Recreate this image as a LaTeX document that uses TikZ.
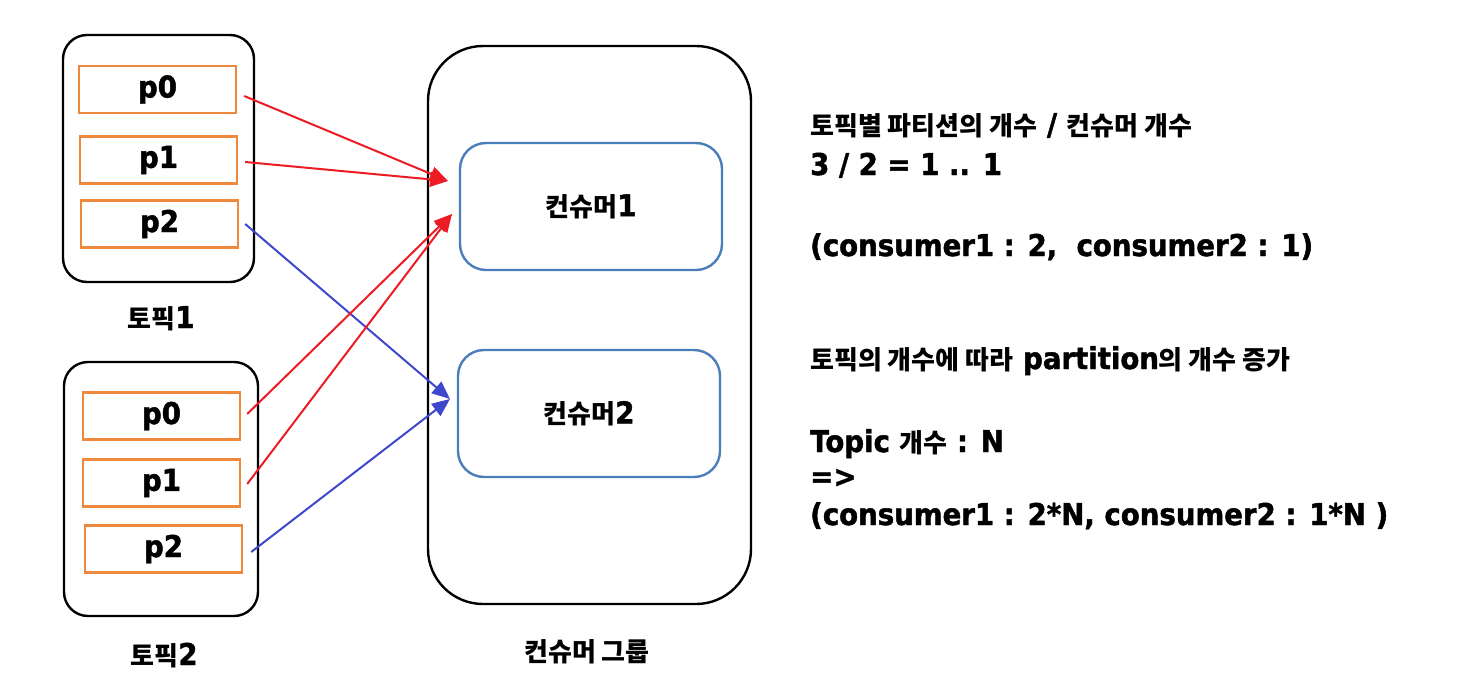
\documentclass[tikz,border=0pt]{standalone}
\usepackage{fontspec}
\setmainfont{DejaVu Sans}[FakeStretch=0.92, BoldFeatures={FakeBold=1.5}]
\newfontfamily\krfont{Noto Sans CJK KR}
\usetikzlibrary{arrows.meta,calc}
\definecolor{arrred}{RGB}{237,28,36}
\definecolor{arrblue}{RGB}{63,72,204}
\definecolor{partorange}{RGB}{237,137,60}
\definecolor{consblue}{RGB}{74,126,187}
\newcommand\kk[2]{{\fontsize{#1}{#1}\krfont\bfseries #2}}
\newcommand\lt[1]{\fontsize{#1}{#1}\selectfont\bfseries}
\tikzset{
  topicbox/.style={draw=black, line width=2.4pt, rounded corners=24pt, minimum width=191pt, minimum height=247pt, inner sep=0pt},
  partbox/.style={draw=partorange, line width=2.4pt, minimum width=157pt, minimum height=47pt, inner sep=0pt, font=\lt{30}},
  groupbox/.style={draw=black, line width=2.4pt, rounded corners=55pt, minimum width=323pt, minimum height=558pt, inner sep=0pt},
  consbox/.style={draw=consblue, line width=2.4pt, rounded corners=26pt, minimum width=262pt, minimum height=127pt, inner sep=0pt, font=\lt{30}},
  redarr/.style={draw=arrred, line width=2pt, -{Triangle[length=18pt,width=15pt]}},
  bluearr/.style={draw=arrblue, line width=2pt, -{Triangle[length=18pt,width=15pt]}},
  txt/.style={anchor=base west, inner sep=0pt, font=\lt{30}},
  lbl/.style={anchor=base, inner sep=0pt, font=\lt{30}}
}
\begin{document}
\begin{tikzpicture}[x=1pt,y=-1pt]
\useasboundingbox (0,0) rectangle (1462,696);
% topics
\node[topicbox] (t1) at (158.5,158.5) {};
\node[topicbox, minimum width=194pt, minimum height=254pt] (t2) at (161,489) {};
\node[partbox] (t1p0) at (157.5,89.5) {p0};
\node[partbox] (t1p1) at (158.5,160) {p1};
\node[partbox] (t1p2) at (159.5,224) {p2};
\node[partbox] (t2p0) at (161.5,416) {p0};
\node[partbox] (t2p1) at (161.5,483) {p1};
\node[partbox] (t2p2) at (163.5,549) {p2};
\node[lbl] (t1l) at (161,328) {\kk{26}{토픽}1};
\node[lbl] (t2l) at (164,665) {\kk{26}{토픽}2};
% group
\node[groupbox] (grp) at (589.5,325) {};
\node[consbox] (c1) at (591,206.5) {\kk{26}{컨슈머}1};
\node[consbox] (c2) at (589,413.5) {\kk{26}{컨슈머}2};
\node[lbl] (gl) at (587,661) {\kk{26}{컨슈머 그룹}};
% arrow ends
\coordinate (e1) at (448,181);
\coordinate (e2) at (452,214);
\coordinate (e3) at (450,399);
\draw[redarr] ([shift={(7,6.5)}]t1p0.east) -- (e1);
\draw[redarr] ([shift={(7,2)}]t1p1.east) -- (e1);
\draw[bluearr] ([shift={(6,0)}]t1p2.east) -- (e3);
\draw[redarr] ([shift={(6,-2)}]t2p0.east) -- (e2);
\draw[redarr] ([shift={(6,1)}]t2p1.east) -- (e2);
\draw[bluearr] ([shift={(8,3)}]t2p2.east) -- (e3);
% right text
\node[txt] (r1) at (810,135) {\kk{26}{토픽별 파티션의 개수} / \kk{26}{컨슈머 개수}};
\node[txt] (r2) at (810,175) {3 / 2 = 1 .. 1};
\node[txt] (r3) at (810,256) {(consumer1 : 2,\ \ consumer2 : 1)};
\node[txt] (r4) at (810,369) {\kk{26}{토픽의 개수에 따라} partition\kk{26}{의 개수 증가}};
\node[txt] (r5) at (810,452) {Topic \kk{26}{개수} : N};
\node[txt] (r6) at (810,487) {=>};
\node[txt] (r7) at (810,525) {(consumer1 : 2*N, consumer2 : 1*N )};
\end{tikzpicture}
\end{document}
